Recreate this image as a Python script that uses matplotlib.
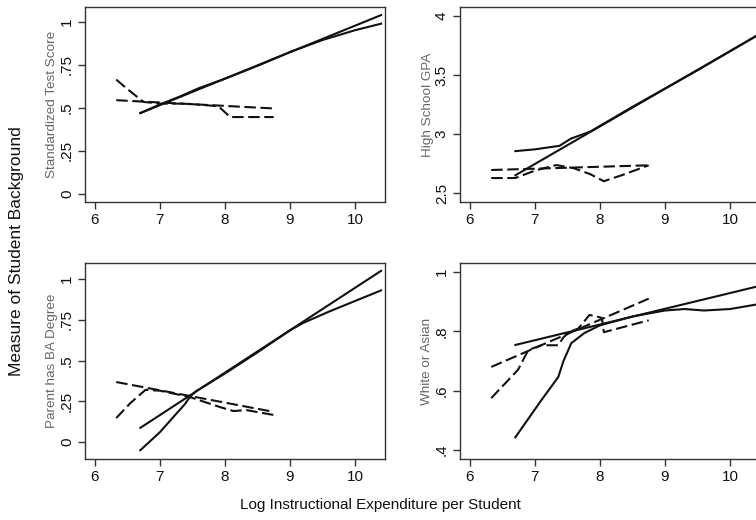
import matplotlib
matplotlib.use('Agg')
import matplotlib.pyplot as plt

plt.rcParams['font.family'] = ['Liberation Sans', 'DejaVu Sans']

# Standardized test score
ts_fit_x = [6.7, 10.4]
ts_fit_y = [0.47, 1.04]
ts_low_x = [6.7, 7.0, 7.3, 7.6, 8.0, 8.5, 9.0, 9.5, 10.0, 10.4]
ts_low_y = [0.47, 0.52, 0.565, 0.615, 0.67, 0.745, 0.825, 0.895, 0.952, 0.99]
ts_sub_fit_x = [6.33, 8.75]
ts_sub_fit_y = [0.545, 0.497]
ts_sub_low_x = [6.33, 6.5, 6.75, 7.0, 7.4, 7.9, 8.08, 8.75]
ts_sub_low_y = [0.665, 0.61, 0.535, 0.525, 0.525, 0.51, 0.447, 0.447]

# High school GPA
gpa_fit_x = [6.7, 10.4]
gpa_fit_y = [2.65, 3.83]
gpa_low_x = [6.7, 7.0, 7.38, 7.55, 7.7, 7.85, 8.5, 9.5, 10.4]
gpa_low_y = [2.855, 2.87, 2.9, 2.96, 2.99, 3.02, 3.23, 3.54, 3.83]
gpa_sub_fit_x = [6.33, 8.75]
gpa_sub_fit_y = [2.695, 2.735]
gpa_sub_low_x = [6.33, 6.7, 7.0, 7.33, 7.6, 7.85, 8.06, 8.33, 8.75]
gpa_sub_low_y = [2.627, 2.627, 2.69, 2.737, 2.71, 2.66, 2.60, 2.65, 2.735]

# Parent has BA degree
ba_fit_x = [6.7, 10.4]
ba_fit_y = [0.087, 1.05]
ba_low_x = [6.7, 7.0, 7.2, 7.38, 7.46, 7.55, 8.0, 8.5, 9.0, 9.2, 9.6, 10.0, 10.4]
ba_low_y = [-0.05, 0.06, 0.15, 0.23, 0.276, 0.31, 0.42, 0.55, 0.685, 0.73, 0.80, 0.865, 0.93]
ba_sub_fit_x = [6.33, 8.75]
ba_sub_fit_y = [0.368, 0.185]
ba_sub_low_x = [6.33, 6.55, 6.78, 7.0, 7.46, 7.92, 8.13, 8.33, 8.75]
ba_sub_low_y = [0.147, 0.24, 0.32, 0.315, 0.276, 0.215, 0.19, 0.196, 0.166]

# White or Asian
wa_fit_x = [6.7, 10.4]
wa_fit_y = [0.754, 0.95]
wa_low_x = [6.7, 7.1, 7.36, 7.44, 7.56, 7.76, 8.0, 8.5, 9.0, 9.3, 9.6, 10.0, 10.4]
wa_low_y = [0.443, 0.568, 0.646, 0.70, 0.76, 0.794, 0.82, 0.85, 0.87, 0.875, 0.87, 0.875, 0.89]
wa_sub_fit_x = [6.33, 8.75]
wa_sub_fit_y = [0.68, 0.91]
wa_sub_low_x = [6.33, 6.74, 6.9, 7.1, 7.36, 7.44, 7.53, 7.67, 7.84, 7.95, 8.03, 8.06, 8.75]
wa_sub_low_y = [0.575, 0.67, 0.737, 0.753, 0.753, 0.78, 0.797, 0.81, 0.855, 0.85, 0.845, 0.797, 0.837]

x_ticks = [6, 7, 8, 9, 10]

panels = [
    ('Standardized Test Score', [85, 7, 385, 202], (-0.047, 1.087),
     [0, 0.25, 0.5, 0.75, 1], ['0', '.25', '.5', '.75', '1'],
     (ts_fit_x, ts_fit_y, ts_low_x, ts_low_y, ts_sub_fit_x, ts_sub_fit_y, ts_sub_low_x, ts_sub_low_y)),
    ('High School GPA', [460, 7, 760, 202], (2.424, 4.076),
     [2.5, 3, 3.5, 4], ['2.5', '3', '3.5', '4'],
     (gpa_fit_x, gpa_fit_y, gpa_low_x, gpa_low_y, gpa_sub_fit_x, gpa_sub_fit_y, gpa_sub_low_x, gpa_sub_low_y)),
    ('Parent has BA Degree', [85, 263, 385, 459], (-0.104, 1.098),
     [0, 0.25, 0.5, 0.75, 1], ['0', '.25', '.5', '.75', '1'],
     (ba_fit_x, ba_fit_y, ba_low_x, ba_low_y, ba_sub_fit_x, ba_sub_fit_y, ba_sub_low_x, ba_sub_low_y)),
    ('White or Asian', [460, 263, 760, 459], (0.37, 1.03),
     [0.4, 0.6, 0.8, 1], ['.4', '.6', '.8', '1'],
     (wa_fit_x, wa_fit_y, wa_low_x, wa_low_y, wa_sub_fit_x, wa_sub_fit_y, wa_sub_low_x, wa_sub_low_y)),
]

W, H = 756, 520
fig = plt.figure(figsize=(W / 100, H / 100), dpi=100)
fig.patch.set_facecolor('white')

line_col = '#111111'
for name, box, ylim, yt, ytl, d in panels:
    x0, y0, x1, y1 = box
    ax = fig.add_axes([x0 / W, 1 - y1 / H, (x1 - x0) / W, (y1 - y0) / H])
    ax.plot(d[0], d[1], color=line_col, lw=1.5)
    ax.plot(d[2], d[3], color=line_col, lw=1.5)
    ax.plot(d[4], d[5], color=line_col, lw=1.5, dashes=(5.5, 2.2))
    ax.plot(d[6], d[7], color=line_col, lw=1.5, dashes=(5.5, 2.2))
    ax.set_xlim(5.85, 10.46)
    ax.set_ylim(*ylim)
    ax.set_xticks(x_ticks)
    ax.set_xticklabels([str(t) for t in x_ticks])
    ax.set_yticks(yt)
    ax.set_yticklabels(ytl, rotation=90, va='center')
    ax.tick_params(direction='out', length=5, width=1, color='#333333',
                   labelsize=11, labelcolor='#111111', pad=3)
    ax.set_ylabel(name, fontsize=9.7, color='#666666', labelpad=1)
    for s in ax.spines.values():
        s.set_color('#333333')
        s.set_linewidth(1)

fig.text(380 / W, 1 - 505 / H, 'Log Instructional Expenditure per Student',
         ha='center', va='center', fontsize=11, color='#111111')
fig.text(17 / W, 1 - 251 / H, 'Measure of Student Background', rotation=90,
         ha='center', va='center', fontsize=12.5, color='#111111')

fig.savefig('out.png', dpi=100)
